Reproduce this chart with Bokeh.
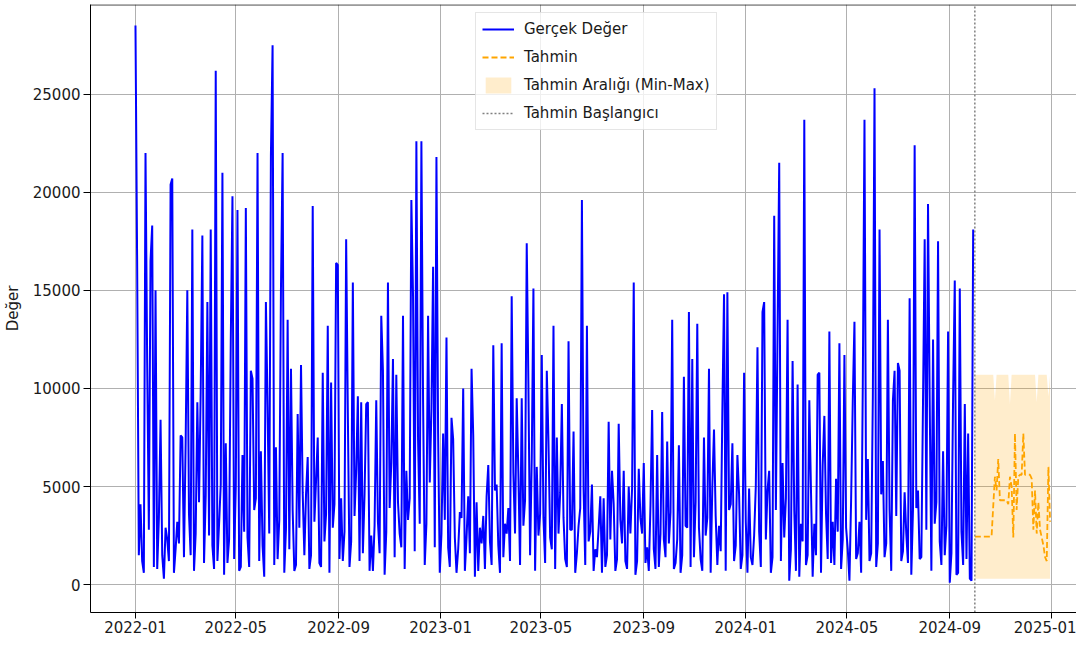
import pandas as pd
from bokeh.plotting import figure
from bokeh.models import (Range1d, FixedTicker, DatetimeTickFormatter, Span,
                          Legend, LegendItem)
from bokeh.embed import file_html
from bokeh.resources import INLINE

# ---------------- data ----------------
actual_start = "2022-01-01"
actual_step = "2D"
actual_values = [
    28500, 16400, 1500, 4100, 1200, 600, 22000, 11300, 2800, 16500, 18300, 900,
    15000, 800, 3400, 8400, 1500, 300, 2900, 2300, 1200, 20400, 20700, 600,
    1800, 3200, 2100, 7600, 7500, 1400, 7200, 15000, 3600, 1500, 18100, 700,
    2600, 9300, 4200, 9800, 17800, 1100, 4500, 14400, 2500, 18100, 2000, 800,
    26200, 1200, 3100, 5100, 21000, 500, 7200, 1100, 2300, 12500, 19800, 1300,
    5000, 19100, 700, 900, 6600, 2700, 19200, 2400, 900, 10900, 10500, 3800,
    4400, 22000, 1200, 6800, 2000, 400, 14400, 9100, 2600, 21900, 27500, 1000,
    7000, 1300, 3300, 15000, 22000, 600, 2800, 13500, 1800, 11000, 3800, 700,
    1000, 8700, 2900, 11200, 4700, 1500, 4600, 6500, 800, 1500, 19300, 3200,
    5300, 7500, 1100, 900, 10800, 2200, 3600, 13200, 600, 10300, 2900, 4100,
    16400, 16300, 1300, 4400, 1200, 2700, 17600, 8800, 900, 2200, 15400, 3500,
    5800, 9600, 1200, 9300, 1600, 4600, 9200, 9300, 700, 2500, 700, 3000,
    9400, 3200, 1600, 13700, 10900, 500, 2700, 15400, 3900, 6200, 11500, 1400,
    10700, 4200, 2600, 1900, 13700, 800, 5800, 3300, 4400, 19600, 14700, 1700,
    22600, 7400, 3100, 22600, 9400, 1000, 3100, 13700, 5200, 8900, 16200, 1900,
    21800, 7700, 600, 2600, 7700, 3300, 12600, 1900, 900, 8500, 7400, 2400,
    600, 1800, 3700, 3400, 10000, 700, 2400, 4500, 1600, 11000, 7600, 400,
    4200, 700, 2900, 2100, 3500, 800, 4500, 6100, 2200, 1000, 12200, 4800,
    5100, 2000, 600, 12300, 1400, 3100, 2600, 3900, 1200, 14700, 5700, 2600,
    9500, 5700, 1000, 9500, 3000, 4300, 17400, 10200, 1500, 6400, 15100, 700,
    6000, 2500, 3600, 11700, 3400, 1100, 10900, 7300, 2400, 1800, 13200, 800,
    7500, 2600, 4700, 9200, 3400, 1300, 900, 12400, 2800, 2800, 7800, 600,
    1600, 3000, 3900, 19600, 4900, 1000, 13200, 2200, 2700, 5100, 700, 1800,
    1400, 2900, 4500, 600, 4400, 900, 1500, 8300, 2300, 5800, 4100, 700,
    1300, 8200, 3300, 2100, 5800, 1200, 800, 5000, 2600, 4900, 15400, 500,
    1200, 5900, 3400, 2600, 6200, 1100, 1900, 700, 4000, 8900, 1800, 800,
    6600, 900, 2600, 8800, 2300, 1400, 7300, 2100, 3700, 13500, 800, 1100,
    2300, 7100, 600, 1500, 10600, 3000, 2900, 13900, 900, 11500, 1400, 4200,
    13300, 2900, 1300, 700, 7500, 2500, 3400, 11000, 600, 5000, 7900, 3500,
    1000, 3000, 1700, 8900, 14800, 700, 14900, 3800, 4100, 7200, 1200, 2000,
    6600, 4600, 800, 1500, 10800, 3200, 600, 4900, 1400, 1000, 2500, 5000,
    12100, 2700, 900, 13900, 14400, 2300, 4800, 5800, 600, 1400, 18800, 3800,
    12800, 21500, 1200, 6200, 2400, 4400, 13500, 200, 1800, 11400, 3800, 700,
    10200, 400, 3100, 2200, 23700, 1000, 1500, 9400, 4800, 400, 3100, 1500,
    10700, 10800, 600, 6100, 8600, 3600, 1300, 12900, 1100, 3200, 1000, 5400,
    2700, 12300, 800, 2300, 11700, 2900, 1800, 200, 4300, 9400, 13400, 1300,
    1600, 3200, 600, 10300, 23700, 3300, 6400, 1200, 1600, 9600, 25300, 900,
    2100, 18100, 4600, 6300, 1400, 2100, 13500, 3800, 700, 9400, 10900, 3500,
    11300, 10900, 1200, 1700, 4700, 2600, 1100, 14600, 500, 3800, 22400, 3900,
    4800, 1300, 1400, 9300, 17600, 2800, 19400, 9400, 700, 12500, 3100, 4200,
    17500, 2200, 1000, 6800, 1500, 3000, 12900, 100, 1600, 9600, 15500, 500,
    600, 15100, 2700, 1000, 9200, 1300, 7700, 300, 200, 18100,
]

forecast_start = "2024-10-01"
forecast_step = "2D"
forecast_values = [
    2450, 2450, 2450, 2450, 2450, 2450, 2450, 2450, 2450, 2450,
    2450, 4000, 5500, 4800, 6400, 4300, 4300, 4300, 4300, 4300,
    4100, 5500, 5000, 2400, 7700, 3800, 5500, 5600, 5600, 7700,
    5600, 5600, 5600, 5600, 5400, 2800, 4800, 2600, 4200, 2800,
    2400, 2000, 1400, 1200, 6000, 3200,
]
band_min = [
    300, 300, 300, 300, 300, 300, 300, 300, 300, 300,
    300, 300, 300, 300, 300, 300, 300, 300, 300, 300,
    300, 300, 300, 300, 300, 300, 300, 300, 300, 300,
    300, 300, 300, 300, 300, 300, 300, 300, 300, 300,
    300, 300, 300, 300, 300, 300,
]
band_max = [
    10700, 10700, 10700, 10700, 10700, 10700, 10700, 10700, 10700, 10700,
    10700, 10700, 9400, 10700, 10700, 10700, 10700, 10700, 10700, 10700,
    10700, 9200, 10700, 10700, 10700, 10700, 10700, 10700, 10700, 10700,
    10700, 10700, 10700, 10700, 10700, 10700, 10700, 9300, 10700, 10700,
    10700, 10700, 10700, 10700, 9600, 10700,
]

x_tick_dates = ["2022-01-01", "2022-05-01", "2022-09-01", "2023-01-01",
                "2023-05-01", "2023-09-01", "2024-01-01", "2024-05-01",
                "2024-09-01", "2025-01-01"]
y_ticks = [0, 5000, 10000, 15000, 20000, 25000]

labels = ["Gerçek Değer", "Tahmin", "Tahmin Aralığı (Min-Max)", "Tahmin Başlangıcı"]
y_label = "Değer"

# ---------------- build ----------------
actual_dates = pd.date_range(actual_start, periods=len(actual_values), freq=actual_step)
forecast_dates = pd.date_range(forecast_start, periods=len(forecast_values), freq=forecast_step)

origin = pd.Timestamp(actual_start)
x_lo = origin - pd.Timedelta(days=53.8)
x_hi = origin + pd.Timedelta(days=1125.6)
y_lo, y_hi = -1423, 29573

FONT = "DejaVu Sans"
TXT = "#1a1a1a"

p = figure(width=1076, height=638, x_axis_type="datetime",
           output_backend="svg", toolbar_location=None,
           x_range=Range1d(x_lo, x_hi), y_range=Range1d(y_lo, y_hi),
           min_border_left=90, min_border_right=0,
           min_border_top=4, min_border_bottom=26)
p.outline_line_color = None
p.background_fill_color = "white"
p.border_fill_color = "white"

band_r = p.varea(x=forecast_dates, y1=band_min, y2=band_max,
                 fill_color="orange", fill_alpha=0.2)
actual_r = p.line(actual_dates, actual_values, line_color="blue", line_width=2.0)
fc_r = p.line(forecast_dates, forecast_values, line_color="orange",
              line_width=1.8, line_dash="6 3")

start_dt = pd.Timestamp(forecast_start)
vline_r = p.segment(x0=[start_dt], y0=[y_lo], x1=[start_dt], y1=[y_hi],
                    line_color="gray", line_width=1.5, line_dash="2 2")

top_border = Span(location=y_hi - 20, dimension="width", line_color="black",
                  line_width=1)
p.add_layout(top_border)

# axes
x_ticks_ms = [pd.Timestamp(d).value // 10**6 for d in x_tick_dates]
p.xaxis.ticker = FixedTicker(ticks=x_ticks_ms)
p.xaxis.formatter = DatetimeTickFormatter(years="%Y-%m", months="%Y-%m",
                                          days="%Y-%m", hours="%Y-%m")
p.yaxis.ticker = FixedTicker(ticks=y_ticks)
p.yaxis.axis_label = y_label

for ax in (p.xaxis, p.yaxis):
    ax.major_label_text_font = FONT
    ax.major_label_text_font_size = "15px"
    ax.major_label_text_color = TXT
    ax.major_tick_in = 0
    ax.minor_tick_line_color = None
    ax.axis_line_color = "black"
    ax.major_tick_line_color = "black"
    ax.axis_label_text_font = FONT
    ax.axis_label_text_font_size = "15px"
    ax.axis_label_text_font_style = "normal"
    ax.axis_label_text_color = TXT
p.yaxis.major_tick_out = 7
p.yaxis.major_label_standoff = 3
p.yaxis.axis_label_standoff = 8
p.xaxis.major_tick_out = 6
p.xaxis.major_label_standoff = 2

p.grid.grid_line_color = "#b0b0b0"
p.grid.grid_line_width = 1

legend = Legend(items=[
    LegendItem(label=labels[0], renderers=[actual_r]),
    LegendItem(label=labels[1], renderers=[fc_r]),
    LegendItem(label=labels[2], renderers=[band_r]),
    LegendItem(label=labels[3], renderers=[vline_r]),
], location=(385, 482))
legend.label_text_font = FONT
legend.label_text_font_size = "15px"
legend.label_text_color = TXT
legend.glyph_width = 32
legend.glyph_height = 20
legend.label_height = 20
legend.spacing = 8
legend.padding = 6
legend.margin = 0
legend.label_standoff = 10
legend.border_line_color = "#cccccc"
legend.border_line_width = 1
legend.background_fill_alpha = 0.8
p.add_layout(legend)

open("out.html", "w").write(file_html(p, INLINE))
